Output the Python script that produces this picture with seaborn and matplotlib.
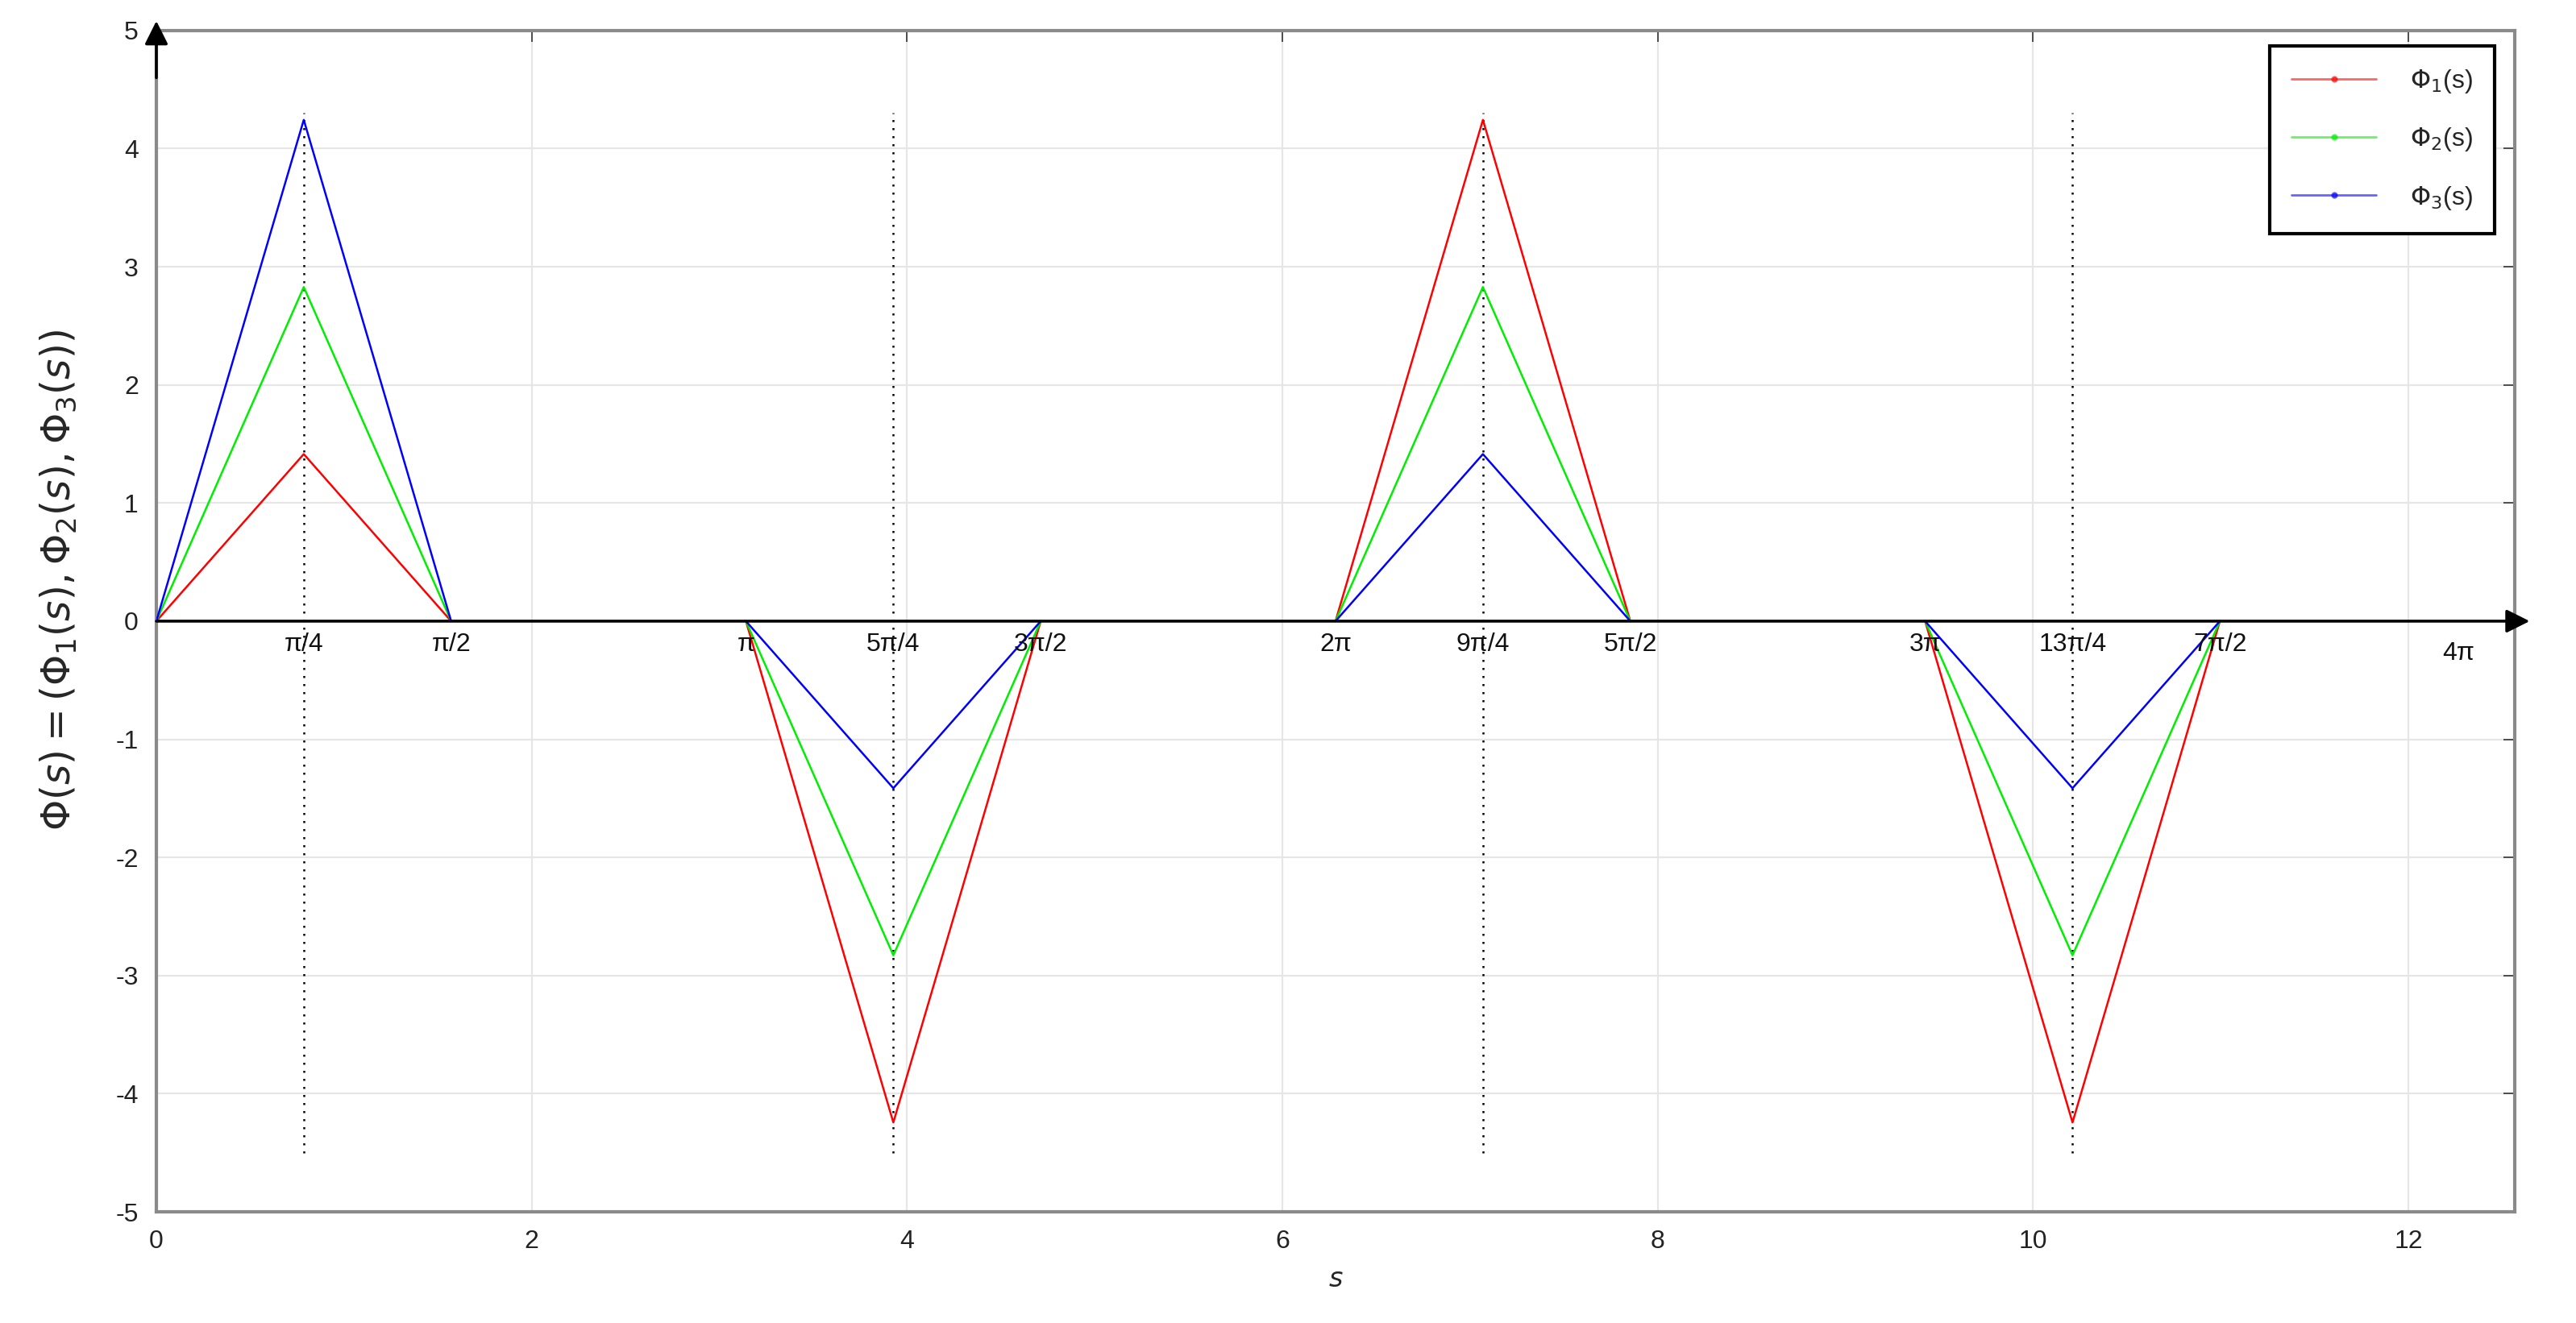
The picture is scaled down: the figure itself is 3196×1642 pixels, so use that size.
import numpy as np
import pandas as pd
import matplotlib
matplotlib.use("Agg")
import matplotlib.pyplot as plt
import seaborn as sns
from matplotlib.lines import Line2D

# ---- data (x knots in units of pi/4) ----
knots_q = [[0, 1, 2], [4, 5, 6], [8, 9, 10], [12, 13, 14]]
phi1 = [[0, 1.414, 0], [0, -4.243, 0], [0, 4.243, 0], [0, -4.243, 0]]
phi2 = [[0, 2.828, 0], [0, -2.828, 0], [0, 2.828, 0], [0, -2.828, 0]]
phi3 = [[0, 4.243, 0], [0, -1.414, 0], [0, 1.414, 0], [0, -1.414, 0]]
series_names = [r"$\Phi_1$(s)", r"$\Phi_2$(s)", r"$\Phi_3$(s)"]
series_colors = ["#ff0000", "#00ee00", "#0000ff"]
peak_q = [1, 5, 9, 13]
pi_labels = ["π/4", "π/2", "π", "5π/4", "3π/2", "2π",
             "9π/4", "5π/2", "3π", "13π/4", "7π/2", "4π"]
pi_label_q = [1, 2, 4, 5, 6, 8, 9, 10, 12, 13, 14, 16]
x_ticks = [0, 2, 4, 6, 8, 10, 12]
y_ticks = [-5, -4, -3, -2, -1, 0, 1, 2, 3, 4, 5]

rows = []
for name, vals in zip(series_names, [phi1, phi2, phi3]):
    for seg, (qs, vs) in enumerate(zip(knots_q, vals)):
        for q, v in zip(qs, vs):
            rows.append({"s": q * np.pi / 4, "phi": v, "series": name, "seg": seg})
df = pd.DataFrame(rows)

sns.set_style("white")
plt.rcParams["font.family"] = ["Liberation Sans", "DejaVu Sans"]
plt.rcParams["mathtext.fontset"] = "dejavusans"
plt.rcParams["axes.unicode_minus"] = False

fig = plt.figure(figsize=(15.98, 8.21), dpi=200)
ax = fig.add_axes([0.0607, 0.084, 0.9155, 0.893])

sns.lineplot(data=df, x="s", y="phi", hue="series", units="seg", estimator=None,
             palette=dict(zip(series_names, series_colors)), linewidth=0.9,
             legend=False, ax=ax, zorder=3, sort=False)

ax.set_xlim(0, 4 * np.pi)
ax.set_ylim(-5, 5)
ax.set_xticks(x_ticks)
ax.set_yticks(y_ticks)
ax.grid(True, color="#e6e6e6", linewidth=0.8)
ax.set_axisbelow(True)
for sp in ax.spines.values():
    sp.set_color("#8a8a8a")
    sp.set_linewidth(1.5)
ax.tick_params(direction="in", length=5, width=0.6, color="#333333",
               top=True, right=True, labelsize=11.5, labelcolor="#222222", pad=8)

# vertical dotted lines at peaks
ax.vlines([q * np.pi / 4 for q in peak_q], -4.5, 4.3, colors="black",
          linestyles=(0, (1, 3)), linewidth=0.9, zorder=2)

# x axis arrow at y=0
ax.annotate("", xy=(4 * np.pi + 0.08, 0), xytext=(0, 0),
            arrowprops=dict(arrowstyle="-|>", color="black", lw=1.3,
                            mutation_scale=22, shrinkA=0, shrinkB=0),
            annotation_clip=False, zorder=4)
# y axis arrow head at top
ax.annotate("", xy=(0, 5.08), xytext=(0, 4.6),
            arrowprops=dict(arrowstyle="-|>", color="black", lw=1.3,
                            mutation_scale=22, shrinkA=0, shrinkB=0),
            annotation_clip=False, zorder=4)

# pi labels
for lab, q in zip(pi_labels, pi_label_q):
    yy = -0.27 if q == 16 else -0.2
    xx = q * np.pi / 4
    if q == 16:
        xx -= 0.3
    ax.text(xx, yy, lab, ha="center", va="center", fontsize=11.5, color="#111111", zorder=5)

ax.set_xlabel("$s$", fontsize=12, labelpad=6)
ax.set_ylabel(r"$\Phi(s) = (\Phi_1(s), \Phi_2(s), \Phi_3(s))$", fontsize=17.5)
ax.yaxis.set_label_coords(-0.033, 0.535)

handles = [Line2D([0], [0], color=c, lw=1.0, marker=".", markersize=4, alpha=0.6)
           for c in series_colors]
leg = ax.legend(handles, series_names, loc="upper right", bbox_to_anchor=(0.9915, 0.987),
                borderaxespad=0, fancybox=False, framealpha=1, edgecolor="black",
                fontsize=11.5, handlelength=3.3, labelspacing=1.2, borderpad=0.85,
                handletextpad=1.3)
leg.get_frame().set_linewidth(1.5)

fig.savefig("out.png", dpi=200)
